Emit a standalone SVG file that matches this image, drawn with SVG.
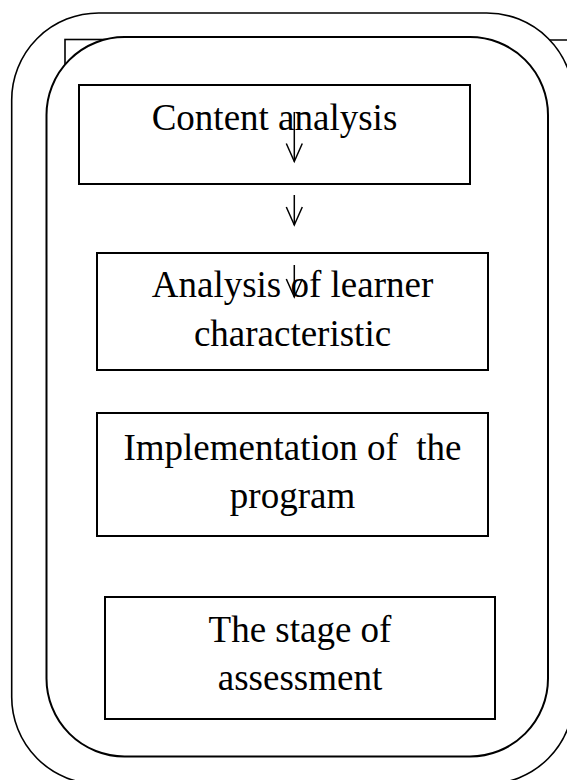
<svg xmlns="http://www.w3.org/2000/svg" width="567" height="780" viewBox="0 0 567 780">
  <style>
    .frame { fill: #fff; stroke: #000; }
    .box { fill: #fff; stroke: #000; stroke-width: 2; }
    .lbl { font-family: "Liberation Serif", "DejaVu Serif", serif; font-size: 37px; fill: #000; text-anchor: middle; }
    .conn { stroke: #000; stroke-width: 1.5; fill: none; }
  </style>
  <defs>
    <marker id="chev" markerUnits="userSpaceOnUse" markerWidth="24" markerHeight="24" refX="0" refY="0" orient="auto" viewBox="-20 -12 24 24" overflow="visible">
      <path d="M-18,-8 L0,0 L-18,8" fill="none" stroke="#000" stroke-width="1.5"/>
    </marker>
  </defs>
  <rect width="567" height="780" fill="#fff"/>

  <g id="frames">
    <line x1="540" y1="40" x2="567" y2="40" stroke="#000" stroke-width="1.5"/>
    <rect id="outer-frame" class="frame" x="11.7" y="13" width="562" height="771" rx="87" ry="87" stroke-width="1.6"/>
    <rect id="back-rect" class="frame" x="65" y="39.5" width="423" height="100" stroke-width="1.6"/>
    <rect id="inner-frame" class="frame" x="46.5" y="37" width="501.5" height="719.5" rx="78" ry="78" stroke-width="2"/>
  </g>

  <g id="content-analysis">
    <rect class="box" x="79" y="85" width="391" height="99"/>
    <text class="lbl" x="274.5" y="130">Content analysis</text>
  </g>

  <g id="learner-analysis">
    <rect class="box" x="97" y="253" width="391" height="117"/>
    <text class="lbl" x="292.5" y="297">Analysis of learner</text>
    <text class="lbl" x="292.5" y="346">characteristic</text>
  </g>

  <g id="implementation">
    <rect class="box" x="97" y="413" width="391" height="123"/>
    <text class="lbl" x="292.5" y="460" xml:space="preserve">Implementation of  the</text>
    <text class="lbl" x="292.5" y="508">program</text>
  </g>

  <g id="assessment">
    <rect class="box" x="105" y="597" width="390" height="122"/>
    <text class="lbl" x="300" y="642">The stage of</text>
    <text class="lbl" x="300" y="690">assessment</text>
  </g>

  <g id="connectors">
    <line class="conn" x1="294.3" y1="112" x2="294.3" y2="161.5" marker-end="url(#chev)"/>
    <line class="conn" x1="294.3" y1="195" x2="294.3" y2="225" marker-end="url(#chev)"/>
    <line class="conn" x1="294.3" y1="265" x2="294.3" y2="297" marker-end="url(#chev)"/>
  </g>
</svg>
